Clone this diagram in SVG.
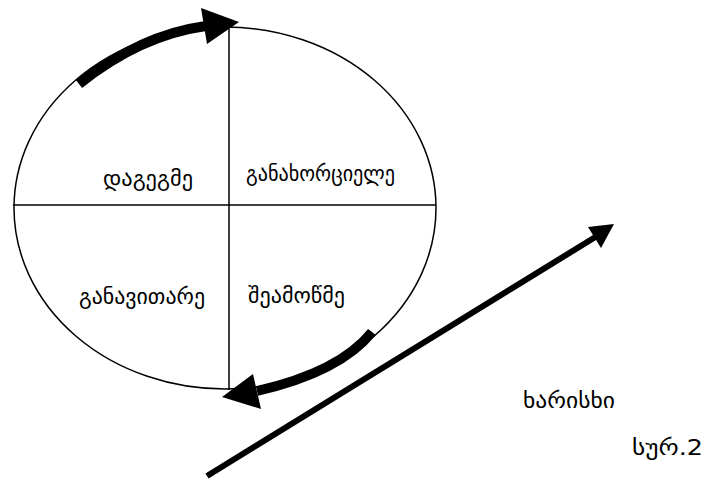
<svg xmlns="http://www.w3.org/2000/svg" width="705" height="482" viewBox="0 0 705 482">
<style>
.ln{fill:none;stroke:#000;stroke-width:1.5}
.arc{fill:none;stroke:#000;stroke-width:10}
.hd{fill:#000;stroke:none}
.t{font-family:"DejaVu Sans","Noto Sans",sans-serif;font-size:21px;fill:#000}
</style>
<rect width="705" height="482" fill="#fff"/>
<g id="cycle">
<ellipse class="ln" cx="225" cy="208" rx="211" ry="181"/>
<line class="ln" x1="229" y1="27" x2="229" y2="390"/>
<line class="ln" x1="13" y1="205" x2="436" y2="205"/>
</g>
<g id="plan"><text class="t" x="103" y="186" textLength="90" lengthAdjust="spacingAndGlyphs">დაგეგმე</text></g>
<g id="do"><text class="t" x="246" y="181" textLength="149" lengthAdjust="spacingAndGlyphs">განახორციელე</text></g>
<g id="improve"><text class="t" x="79" y="304" textLength="126" lengthAdjust="spacingAndGlyphs">განავითარე</text></g>
<g id="check"><text class="t" x="248" y="303" textLength="97" lengthAdjust="spacingAndGlyphs">შეამოწმე</text></g>
<g id="quality"><text class="t" x="523" y="408" textLength="92" lengthAdjust="spacingAndGlyphs">ხარისხი</text></g>
<g id="caption"><text class="t" x="632" y="455" textLength="71" lengthAdjust="spacingAndGlyphs">სურ.2</text></g>
<g id="connectors">
<path class="arc" d="M79,84 Q140,35 206,26"/>
<polygon class="hd" points="201,8 239,22 207,44"/>
<path class="arc" d="M372,332 Q340,372 257,391"/>
<polygon class="hd" points="253,374 222,397 261,409"/>
<line x1="207" y1="476" x2="597" y2="236" stroke="#000" stroke-width="6"/>
<polygon class="hd" points="588,227 614,224 601,248"/>
</g>
</svg>
